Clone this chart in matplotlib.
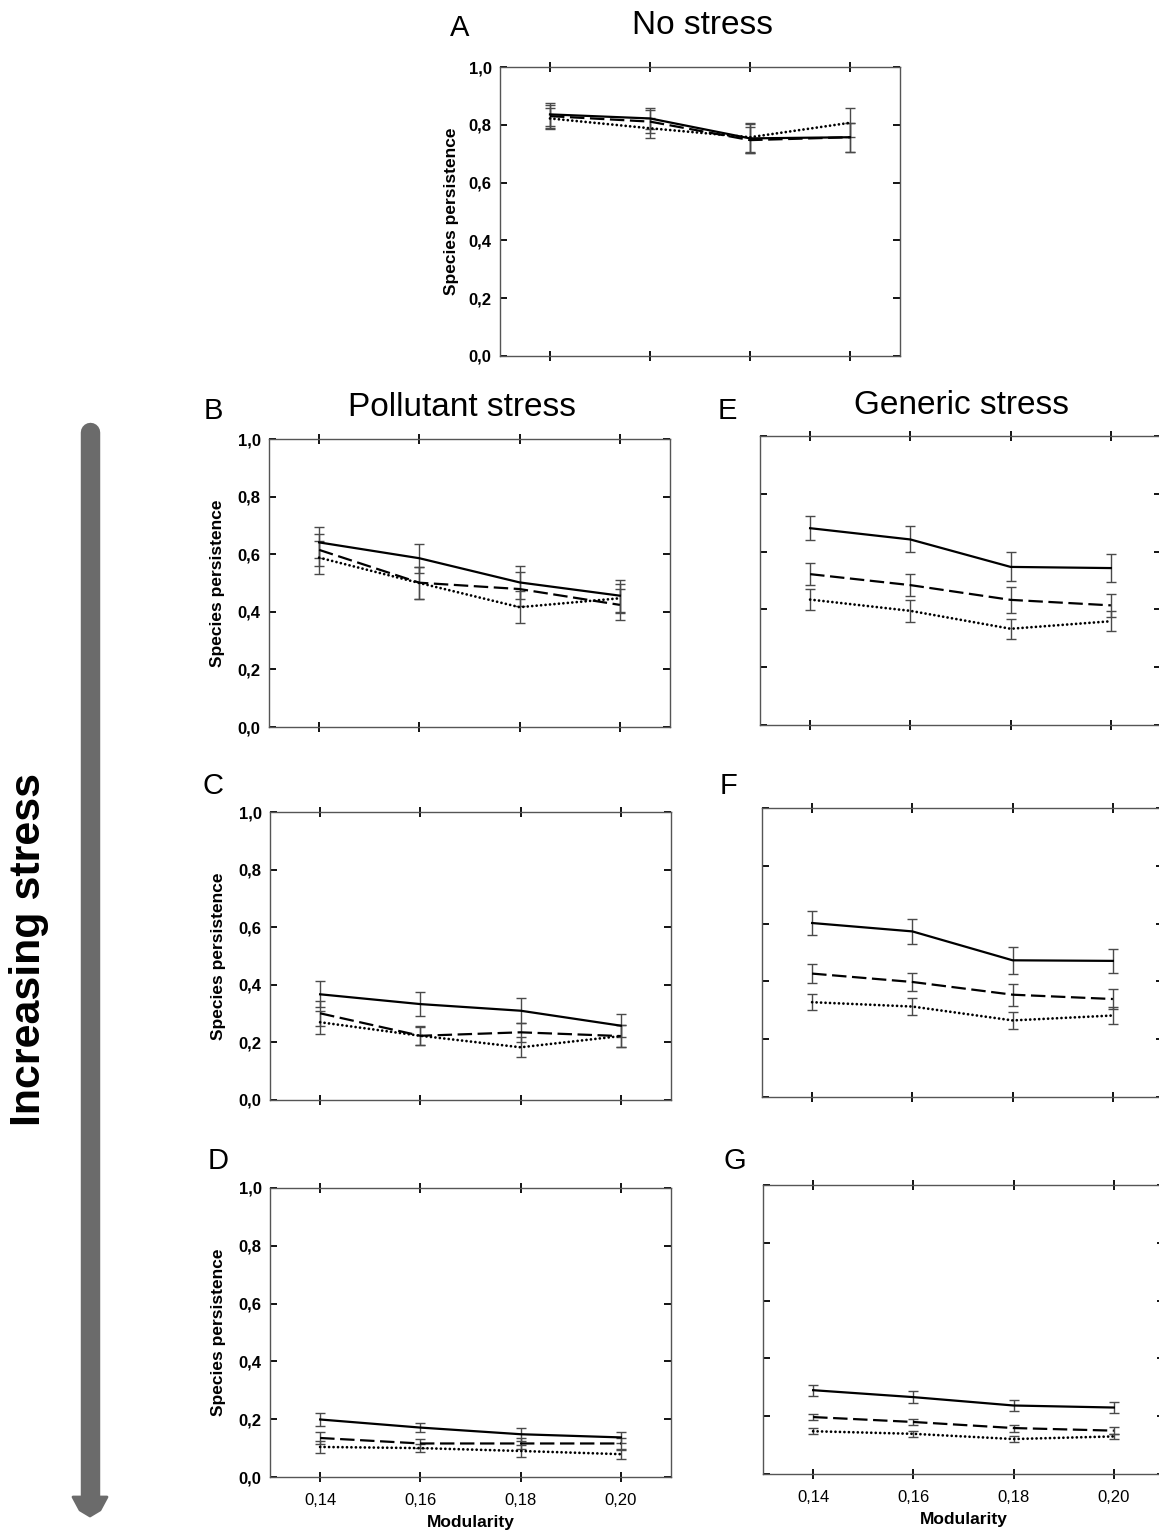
import numpy as np
import matplotlib
matplotlib.use("Agg")
import matplotlib.pyplot as plt
from matplotlib.lines import Line2D
from matplotlib.patches import Polygon
from matplotlib.ticker import FuncFormatter

plt.rcParams['font.family'] = ['Liberation Sans', 'DejaVu Sans']

modularity = [0.14, 0.16, 0.18, 0.20]
xtick_labels = ['0,14', '0,16', '0,18', '0,20']

# A - no stress
a_solid = [0.836, 0.822, 0.753, 0.757]
a_dash = [0.830, 0.811, 0.747, 0.757]
a_dot = [0.822, 0.788, 0.757, 0.807]
a_solid_err = [0.040, 0.035, 0.050, 0.050]
a_dash_err = [0.040, 0.040, 0.045, 0.050]
a_dot_err = [0.035, 0.035, 0.050, 0.050]

# B, C, D - pollutant stress
b_solid = [0.641, 0.586, 0.502, 0.456]
b_dash = [0.615, 0.501, 0.479, 0.424]
b_dot = [0.588, 0.500, 0.416, 0.447]
b_solid_err = [0.054, 0.050, 0.058, 0.055]
b_dash_err = [0.055, 0.055, 0.060, 0.054]
b_dot_err = [0.057, 0.055, 0.055, 0.050]

c_solid = [0.367, 0.333, 0.310, 0.258]
c_dash = [0.301, 0.223, 0.235, 0.222]
c_dot = [0.270, 0.223, 0.183, 0.222]
c_solid_err = [0.045, 0.042, 0.044, 0.040]
c_dash_err = [0.043, 0.033, 0.034, 0.038]
c_dot_err = [0.040, 0.032, 0.035, 0.038]

d_solid = [0.199, 0.171, 0.148, 0.137]
d_dash = [0.135, 0.116, 0.116, 0.116]
d_dot = [0.104, 0.100, 0.090, 0.079]
d_solid_err = [0.022, 0.017, 0.022, 0.020]
d_dash_err = [0.020, 0.017, 0.020, 0.020]
d_dot_err = [0.020, 0.015, 0.020, 0.015]

# E, F, G - generic stress
e_solid = [0.681, 0.642, 0.547, 0.543]
e_dash = [0.522, 0.484, 0.433, 0.414]
e_dot = [0.434, 0.395, 0.333, 0.359]
e_solid_err = [0.042, 0.045, 0.050, 0.047]
e_dash_err = [0.039, 0.037, 0.044, 0.040]
e_dot_err = [0.037, 0.037, 0.034, 0.035]

f_solid = [0.602, 0.573, 0.473, 0.471]
f_dash = [0.427, 0.398, 0.354, 0.339]
f_dot = [0.328, 0.313, 0.265, 0.282]
f_solid_err = [0.042, 0.044, 0.047, 0.042]
f_dash_err = [0.032, 0.032, 0.038, 0.035]
f_dot_err = [0.028, 0.029, 0.028, 0.028]

g_solid = [0.290, 0.266, 0.237, 0.230]
g_dash = [0.197, 0.180, 0.159, 0.150]
g_dot = [0.148, 0.139, 0.121, 0.130]
g_solid_err = [0.019, 0.020, 0.019, 0.020]
g_dash_err = [0.011, 0.011, 0.012, 0.012]
g_dot_err = [0.010, 0.010, 0.010, 0.010]

W, H = 1159, 1532
fig = plt.figure(figsize=(W / 100, H / 100), dpi=100)


def px_axes(left, top, right, bottom):
    return fig.add_axes([left / W, 1 - bottom / H, (right - left) / W, (bottom - top) / H])


def draw_panel(ax, solid, dash, dot, solid_err, dash_err, dot_err, ylabels, xlabels, ylab_off=41):
    for vals, errs in [(solid, solid_err), (dash, dash_err), (dot, dot_err)]:
        ax.errorbar(modularity, vals, yerr=errs, fmt='none', ecolor='#4a4a4a',
                    elinewidth=1.0, capsize=3.3, capthick=1.0)
    ax.plot(modularity, solid, color='black', linestyle='-', linewidth=1.6)
    ax.plot(modularity, dash, color='black', linestyle=(0, (6.5, 2.5)), linewidth=1.6,
            dash_capstyle='butt')
    ax.plot(modularity, dot, color='black', linestyle=(0, (0.01, 1.6)), linewidth=2.0,
            dash_capstyle='round')
    ax.set_xlim(0.13, 0.21)
    ax.set_ylim(0.0, 1.0)
    ax.set_xticks(modularity)
    ax.set_yticks([0.0, 0.2, 0.4, 0.6, 0.8, 1.0])
    for s in ax.spines.values():
        s.set_color('#555555')
        s.set_linewidth(1.0)
    ax.tick_params(axis='x', direction='inout', length=7, width=1.3, top=True,
                   labelsize=12, pad=8)
    ax.tick_params(axis='y', direction='in', length=5, width=1.3, right=True,
                   labelsize=12, pad=6)
    if xlabels:
        ax.set_xticklabels(xtick_labels)
        ax.set_xlabel('Modularity', fontsize=12.5, fontweight='bold')
        ax.xaxis.set_label_coords(0.5, -38 / 289)
    else:
        ax.set_xticklabels([])
    if ylabels:
        ax.yaxis.set_major_formatter(FuncFormatter(lambda v, p: f'{v:.1f}'.replace('.', ',')))
        for t in ax.get_yticklabels():
            t.set_fontweight('bold')
        ax.set_ylabel('Species persistence', fontsize=12.5, fontweight='bold')
        ax.yaxis.set_label_coords(-ylab_off / 400, 0.5)
    else:
        ax.set_yticklabels([])


ax_a = px_axes(500, 67, 900, 356)
draw_panel(ax_a, a_solid, a_dash, a_dot, a_solid_err, a_dash_err, a_dot_err, True, False, 41)

ax_b = px_axes(269, 439, 670, 727)
draw_panel(ax_b, b_solid, b_dash, b_dot, b_solid_err, b_dash_err, b_dot_err, True, False, 44)
ax_c = px_axes(270, 812, 671, 1100)
draw_panel(ax_c, c_solid, c_dash, c_dot, c_solid_err, c_dash_err, c_dot_err, True, False, 44)
ax_d = px_axes(270, 1188, 671, 1477)
draw_panel(ax_d, d_solid, d_dash, d_dot, d_solid_err, d_dash_err, d_dot_err, True, True, 44)

ax_e = px_axes(760, 436, 1161, 725)
draw_panel(ax_e, e_solid, e_dash, e_dot, e_solid_err, e_dash_err, e_dot_err, False, False)
ax_f = px_axes(762, 808, 1163, 1097)
draw_panel(ax_f, f_solid, f_dash, f_dot, f_solid_err, f_dash_err, f_dot_err, False, False)
ax_g = px_axes(763, 1185, 1164, 1474)
draw_panel(ax_g, g_solid, g_dash, g_dot, g_solid_err, g_dash_err, g_dot_err, False, True)


def ftext(x, y, s, **kw):
    fig.text(x / W, 1 - y / H, s, ha='center', va='center', **kw)


ftext(702, 25, 'No stress', fontsize=24)
ftext(462, 408, 'Pollutant stress', fontsize=24)
ftext(962, 406, 'Generic stress', fontsize=24)
for letter, x, y in [('A', 460, 28), ('B', 213, 411), ('E', 727, 411),
                     ('C', 213, 786), ('F', 728, 786), ('D', 218, 1161), ('G', 735, 1161)]:
    ftext(x, y, letter, fontsize=21)

ftext(29, 950, 'Increasing stress', fontsize=31, fontweight='bold', rotation=90)

# grey arrow on the left
arrow_col = '#6b6b6b'
fig.add_artist(Line2D([90 / W, 90 / W], [1 - 432 / H, 1 - 1500 / H], color=arrow_col,
                      linewidth=14, solid_capstyle='round'))
head = [(73, 1497), (107, 1497), (100, 1510), (90, 1516), (80, 1510)]
fig.add_artist(Polygon([(x / W, 1 - y / H) for x, y in head], closed=True,
                       facecolor=arrow_col, edgecolor=arrow_col, joinstyle='round',
                       linewidth=2, transform=fig.transFigure))

fig.savefig('out.png', dpi=100)
